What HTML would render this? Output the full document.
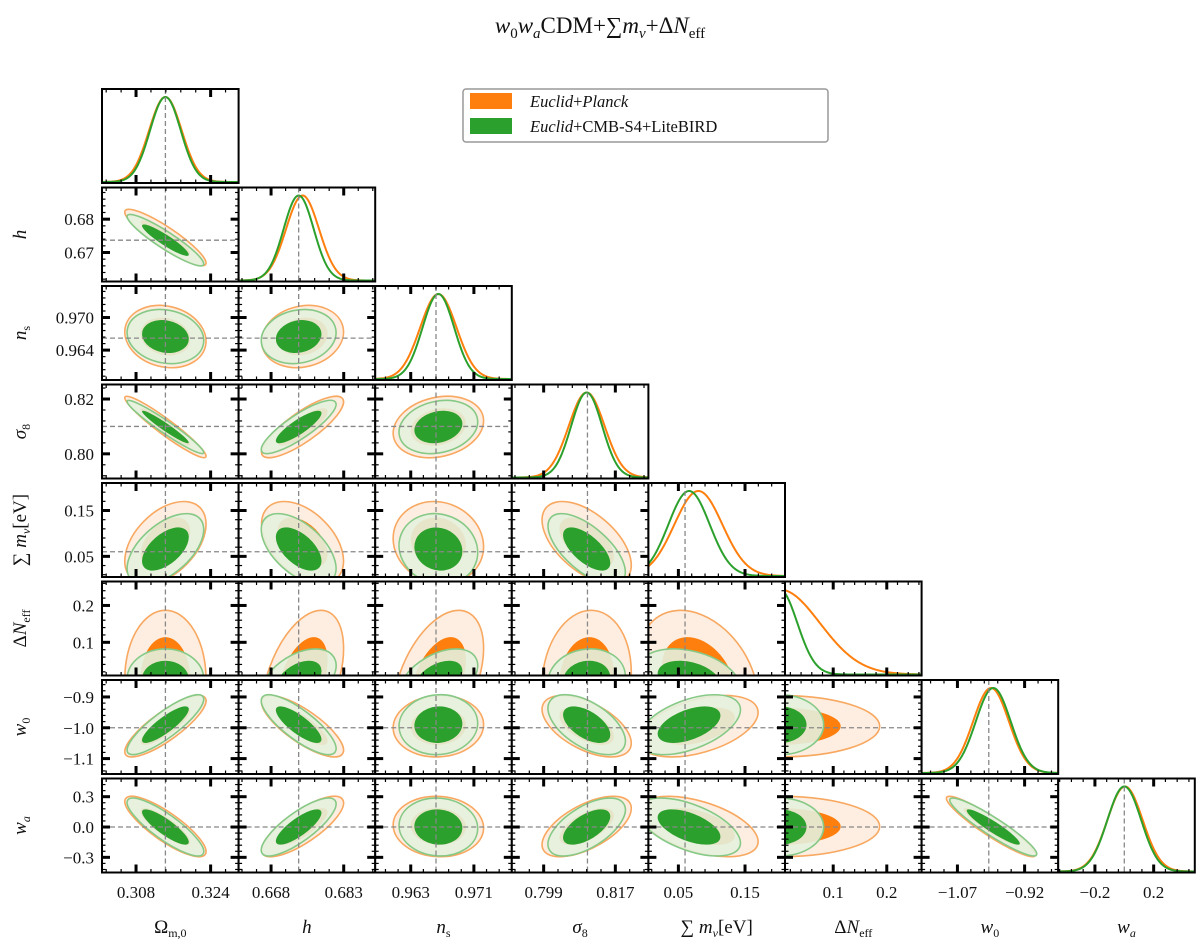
<!DOCTYPE html>
<html>
<head>
<meta charset="utf-8">
<style>
  html,body{margin:0;padding:0;background:#fff;}
  svg{display:block;}
  text{font-family:"Liberation Serif","DejaVu Serif",serif;fill:#111;}
</style>
</head>
<body>
<svg id="chart" width="1200" height="946" viewBox="0 0 1200 946" xmlns="http://www.w3.org/2000/svg">
  <text x="600" y="33" text-anchor="middle" font-size="23"><tspan font-style="italic">w</tspan><tspan font-size="15" dy="5">0</tspan><tspan dy="-5" font-style="italic">w</tspan><tspan font-size="15" dy="5" font-style="italic">a</tspan><tspan dy="-5">CDM+∑</tspan><tspan font-style="italic">m</tspan><tspan font-size="15" dy="5" font-style="italic">ν</tspan><tspan dy="-5">+Δ</tspan><tspan font-style="italic">N</tspan><tspan font-size="15" dy="5">eff</tspan></text>
  <g id="panels"></g>
  <g>
    <rect x="463" y="89" width="365" height="53" rx="3" fill="#fff" stroke="#999" stroke-width="1.5"/>
    <g>
      <rect x="470" y="93" width="42" height="16" fill="#ff7f0e"/>
      <text x="530" y="107" font-size="16.5"><tspan font-style="italic">Euclid</tspan>+<tspan font-style="italic">Planck</tspan></text>
    </g>
    <g>
      <rect x="470" y="118" width="42" height="16" fill="#2ca02c"/>
      <text x="530" y="132" font-size="16.5"><tspan font-style="italic">Euclid</tspan>+CMB-S4+LiteBIRD</text>
    </g>
  </g>
</svg>
<script>
// ---- data ----
const paramNames = ["Omega_m0","h","n_s","sigma_8","sum_mnu","Delta_Neff","w0","wa"];
const rangeLo = [0.3007, 0.6613, 0.9585, 0.7910, 0.005, 0.010, -1.150, -0.45];
const rangeHi = [0.3300, 0.6895, 0.9758, 0.8253, 0.210, 0.265, -0.845, 0.48];
const fiducial = [0.3143, 0.6737, 0.9662, 0.8100, 0.060, null, -1.0, 0.0];
const meanOrange = [0.3143, 0.6745, 0.9665, 0.8098, 0.080, 0.0, -0.995, 0.005];
const sigOrange  = [0.0035, 0.0034, 0.0023, 0.0045, 0.036, 0.075, 0.040, 0.120];
const meanGreen  = [0.3143, 0.6737, 0.9665, 0.8098, 0.066, 0.0, -0.990, 0.000];
const sigGreen   = [0.0033, 0.0031, 0.0020, 0.0039, 0.031, 0.033, 0.039, 0.115];
const corrOrange = [
  [],
  [-0.90],
  [-0.15, 0.15],
  [-0.95, 0.82, 0.20],
  [0.45, -0.45, -0.10, -0.55],
  [0.00, 0.45, 0.45, 0.10, -0.30],
  [0.83, -0.78, 0.05, -0.55, 0.45, 0.00],
  [-0.83, 0.78, -0.05, 0.60, -0.50, 0.00, -0.93]
];
const corrGreen = [
  [],
  [-0.92],
  [-0.15, 0.15],
  [-0.96, 0.85, 0.20],
  [0.55, -0.55, -0.10, -0.65],
  [0.00, 0.45, 0.45, 0.10, -0.30],
  [0.85, -0.80, 0.05, -0.55, 0.50, 0.00],
  [-0.85, 0.80, -0.05, 0.60, -0.55, 0.00, -0.93]
];
const xTicks = [[0.308,0.324],[0.668,0.683],[0.963,0.971],[0.799,0.817],[0.05,0.15],[0.1,0.2],[-1.07,-0.92],[-0.2,0.2]];
const xTickLabels = [["0.308","0.324"],["0.668","0.683"],["0.963","0.971"],["0.799","0.817"],["0.05","0.15"],["0.1","0.2"],["−1.07","−0.92"],["−0.2","0.2"]];
const yTicks = [[],[0.68,0.67],[0.970,0.964],[0.82,0.80],[0.15,0.05],[0.2,0.1],[-0.9,-1.0,-1.1],[0.3,0.0,-0.3]];
const yTickLabels = [[],["0.68","0.67"],["0.970","0.964"],["0.82","0.80"],["0.15","0.05"],["0.2","0.1"],["−0.9","−1.0","−1.1"],["0.3","0.0","−0.3"]];

// ---- layout ----
const X0 = 102, PW = 136.6, Y0 = 89, PITCH = 98.5, PH = 94;
const NS = "http://www.w3.org/2000/svg";
const root = document.getElementById("panels");
function mk(tag, attrs, parent){
  const e = document.createElementNS(NS, tag);
  for (const k in attrs) e.setAttribute(k, attrs[k]);
  (parent||root).appendChild(e);
  return e;
}
function xs(j, v){ return X0 + j*PW + (v-rangeLo[j])/(rangeHi[j]-rangeLo[j])*PW; }
function ys(i, v){ const top = Y0 + i*PITCH; return top + PH - (v-rangeLo[i])/(rangeHi[i]-rangeLo[i])*PH; }

function drawEllipse(g, i, j, mu, sig, rho, k, fill, stroke, sw, name){
  const ax = PW/(rangeHi[j]-rangeLo[j]), ay = -PH/(rangeHi[i]-rangeLo[i]);
  const sx = sig[j]*ax, sy = sig[i]*ay;
  const a = sx*sx, c = sy*sy, b = rho*sx*sy;
  const t = (a+c)/2, d = Math.sqrt(((a-c)/2)**2 + b*b);
  const l1 = t+d, l2 = Math.max(t-d, 0.01);
  const ang = 0.5*Math.atan2(2*b, a-c)*180/Math.PI;
  const cx = xs(j, mu[j]), cy = ys(i, mu[i]);
  const el = mk("ellipse", {cx:cx, cy:cy, rx:k*Math.sqrt(l1), ry:k*Math.sqrt(l2),
    transform:`rotate(${ang} ${cx} ${cy})`, fill:fill, stroke:stroke, "stroke-width":sw}, g);
  
  
}

function ticksX(g, j, px, py, withMinor){
  const t = xTicks[j];
  const step = (t[1]-t[0])/5;
  if (withMinor){
    for (let v = t[0] - 10*step; v <= rangeHi[j]; v += step){
      if (v < rangeLo[j]) continue;
      const x = xs(j, v);
      mk("line",{x1:x,y1:py+PH,x2:x,y2:py+PH-3.5,stroke:"#000","stroke-width":1.2},g);
      mk("line",{x1:x,y1:py,x2:x,y2:py+3.5,stroke:"#000","stroke-width":1.2},g);
    }
  }
  t.forEach(v=>{
    const x = xs(j, v);
    mk("line",{x1:x,y1:py+PH,x2:x,y2:py+PH-8,stroke:"#000","stroke-width":3},g);
    mk("line",{x1:x,y1:py,x2:x,y2:py+8,stroke:"#000","stroke-width":3},g);
  });
}
function ticksY(g, i, px, py){
  const t = yTicks[i];
  const step = Math.abs(t[1]-t[0])/5;
  const start = Math.min(...t);
  for (let v = start - 10*step; v <= rangeHi[i]; v += step){
    if (v < rangeLo[i]) continue;
    const y = ys(i, v);
    mk("line",{x1:px,y1:y,x2:px+3.5,y2:y,stroke:"#000","stroke-width":1.2},g);
    mk("line",{x1:px+PW,y1:y,x2:px+PW-3.5,y2:y,stroke:"#000","stroke-width":1.2},g);
  }
  t.forEach(v=>{
    const y = ys(i, v);
    mk("line",{x1:px,y1:y,x2:px+8,y2:y,stroke:"#000","stroke-width":3},g);
    mk("line",{x1:px+PW,y1:y,x2:px+PW-8,y2:y,stroke:"#000","stroke-width":3},g);
  });
}

const defs = mk("defs", {});
for (let i = 0; i < 8; i++){
  for (let j = 0; j <= i; j++){
    const px = X0 + j*PW, py = Y0 + i*PITCH;
    const cid = `clip-${i}-${j}`;
    const cp = mk("clipPath", {id:cid}, defs);
    mk("rect", {x:px, y:py, width:PW, height:PH}, cp);
    const g = mk("g", {});
    
    
    const inner = mk("g", {"clip-path":`url(#${cid})`}, g);
    mk("rect", {x:px, y:py, width:PW, height:PH, fill:"#fff"}, inner);
    if (i === j){
      [[meanOrange,sigOrange,"#ff7f0e","orange"],[meanGreen,sigGreen,"#2ca02c","green"]].forEach(([mu,sg,col,nm])=>{
        let d = "";
        for (let s = 0; s <= 160; s++){
          const v = rangeLo[j] + (rangeHi[j]-rangeLo[j])*s/160;
          const p = Math.exp(-0.5*((v-mu[j])/sg[j])**2);
          const x = xs(j, v), y = py + PH - 1 - p*(PH-9);
          d += (s===0?"M":"L") + x.toFixed(2) + " " + y.toFixed(2) + " ";
        }
        const path = mk("path", {d:d, fill:"none", stroke:col, "stroke-width":2}, inner);
        
        
      });
      if (fiducial[j] !== null){
        const x = xs(j, fiducial[j]);
        mk("line",{x1:x,y1:py,x2:x,y2:py+PH,stroke:"#888","stroke-width":1.3,"stroke-dasharray":"5,3"},inner);
      }
    } else {
      drawEllipse(inner, i, j, meanOrange, sigOrange, corrOrange[i][j], 2.49, "rgba(253,237,222,0.92)", "#f8a860", 1.6, "orange-95-contour");
      drawEllipse(inner, i, j, meanOrange, sigOrange, corrOrange[i][j], 1.52, "#ff7f0e", "none", 0, "orange-68-contour");
      drawEllipse(inner, i, j, meanGreen, sigGreen, corrGreen[i][j], 2.49, "rgba(228,241,222,0.9)", "#86c986", 1.6, "green-95-contour");
      drawEllipse(inner, i, j, meanGreen, sigGreen, corrGreen[i][j], 1.52, "#2ca02c", "none", 0, "green-68-contour");
      if (fiducial[j] !== null){
        const x = xs(j, fiducial[j]);
        mk("line",{x1:x,y1:py,x2:x,y2:py+PH,stroke:"#888","stroke-width":1.3,"stroke-dasharray":"5,3"},inner);
      }
      if (fiducial[i] !== null){
        const y = ys(i, fiducial[i]);
        mk("line",{x1:px,y1:y,x2:px+PW,y2:y,stroke:"#888","stroke-width":1.3,"stroke-dasharray":"5,3"},inner);
      }
      ticksY(g, i, px, py);
    }
    ticksX(g, j, px, py, true);
    mk("rect", {x:px, y:py, width:PW, height:PH, fill:"none", stroke:"#000", "stroke-width":2}, g);
  }
}

for (let i = 1; i < 8; i++){
  yTicks[i].forEach((v, k)=>{
    const t = mk("text", {x:94, y:ys(i, v)+6, "text-anchor":"end", "font-size":17});
    t.textContent = yTickLabels[i][k];
    
    
  });
}
for (let j = 0; j < 8; j++){
  xTicks[j].forEach((v, k)=>{
    const t = mk("text", {x:xs(j, v), y:898, "text-anchor":"middle", "font-size":17});
    t.textContent = xTickLabels[j][k];
    
    
  });
}

const xTitles = [
  '<tspan>Ω</tspan><tspan font-size="12" dy="4">m,0</tspan>',
  '<tspan font-style="italic">h</tspan>',
  '<tspan font-style="italic">n</tspan><tspan font-size="12" dy="4">s</tspan>',
  '<tspan font-style="italic">σ</tspan><tspan font-size="12" dy="4">8</tspan>',
  '<tspan>∑</tspan><tspan font-style="italic"> m</tspan><tspan font-size="12" dy="4" font-style="italic">ν</tspan><tspan dy="-4">[eV]</tspan>',
  '<tspan>Δ</tspan><tspan font-style="italic">N</tspan><tspan font-size="12" dy="4">eff</tspan>',
  '<tspan font-style="italic">w</tspan><tspan font-size="12" dy="4">0</tspan>',
  '<tspan font-style="italic">w</tspan><tspan font-size="12" dy="4" font-style="italic">a</tspan>'
];
for (let j = 0; j < 8; j++){
  const t = mk("text", {x:X0 + j*PW + PW/2, y:933, "text-anchor":"middle", "font-size":19});
  t.innerHTML = xTitles[j];
  
  
}
for (let i = 1; i < 8; i++){
  const cy = Y0 + i*PITCH + PH/2;
  const t = mk("text", {x:0, y:0, "text-anchor":"middle", "font-size":19, transform:`translate(26 ${cy}) rotate(-90)`});
  t.innerHTML = xTitles[i];
  
  
}
</script>
</body>
</html>
